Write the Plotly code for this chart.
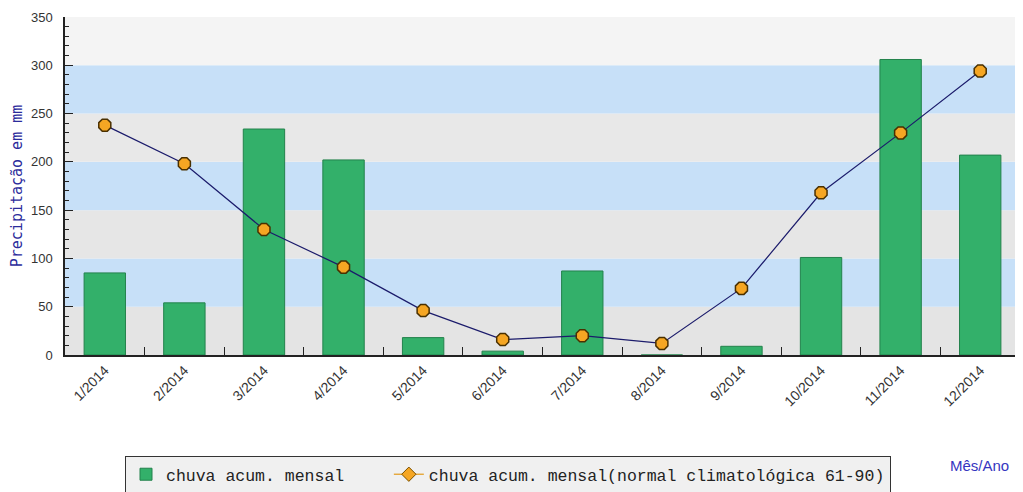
import plotly.graph_objects as go

months = ["1/2014", "2/2014", "3/2014", "4/2014", "5/2014", "6/2014",
          "7/2014", "8/2014", "9/2014", "10/2014", "11/2014", "12/2014"]
chuva_mensal = [85, 54, 234, 202, 18, 4, 87, 0, 9, 101, 306, 207]
normal_climatologica = [238, 198, 130, 91, 46, 16, 20, 12, 69, 168, 230, 294]
band_edges = [0, 50, 100, 150, 200, 250, 300, 350]
band_colors = ["#E4E4E4", "#C7E0F8", "#E6E6E6", "#C7E0F8", "#E8E8E8", "#C7E0F8", "#F4F4F4"]

NBSP = "\u00a0"

fig = go.Figure()

fig.add_trace(go.Bar(
    x=months, y=chuva_mensal, name="chuva acum. mensal" + NBSP * 4,
    width=0.52,
    marker=dict(color="#33B06A", line=dict(color="#23824C", width=1)),
))
fig.add_trace(go.Scatter(
    x=months, y=normal_climatologica, mode="lines+markers",
    name="chuva acum. mensal(normal climatológica 61-90)",
    line=dict(color="#1B1B6B", width=1.2),
    marker=dict(symbol="octagon", size=13, color="#F5A623",
                line=dict(color="#4A3000", width=1.5)),
    showlegend=False,
))
# legend entry with diamond symbol as in the reference
fig.add_trace(go.Scatter(
    x=[None], y=[None], mode="lines+markers",
    name="chuva acum. mensal(normal climatológica 61-90)",
    line=dict(color="#E29A1A", width=1.2),
    marker=dict(symbol="diamond", size=11, color="#F5A623",
                line=dict(color="#7A5000", width=1)),
))

shapes = []
for i, c in enumerate(band_colors):
    shapes.append(dict(type="rect", xref="paper", yref="y", x0=0, x1=1,
                       y0=band_edges[i], y1=band_edges[i + 1],
                       fillcolor=c, line=dict(width=0), layer="below"))

W, H = 1015, 484
fig.update_layout(
    width=W, height=H,
    margin=dict(l=57, r=3, t=9, b=137, autoexpand=False),
    paper_bgcolor="white", plot_bgcolor="white",
    shapes=shapes,
    showlegend=True,
    legend=dict(orientation="h", x=117 / W, xref="container", xanchor="left",
                y=1 - 448 / H, yref="container", yanchor="top",
                bgcolor="#F0F0F0", bordercolor="#333333", borderwidth=1,
                font=dict(family="Liberation Mono", size=16.5, color="#222222"),
                itemwidth=30, tracegroupgap=0),
    xaxis=dict(
        type="category", tickangle=-45, tickson="boundaries",
        ticks="inside", ticklen=8, tickcolor="#222", tickwidth=1,
        showline=True, linecolor="#222", linewidth=1.5, mirror=False,
        showgrid=False, automargin=False,
        tickfont=dict(family="Liberation Sans", size=14, color="#333333"),
        range=[-0.5, 11.5],
    ),
    yaxis=dict(
        range=[0, 350], dtick=50, ticks="inside", ticklen=8, tickcolor="#222",
        showline=True, linecolor="#222", linewidth=1.5, showgrid=False, zeroline=False,
        automargin=False, ticklabelstandoff=8,
        minor=dict(dtick=10, ticks="inside", ticklen=4, tickcolor="#222"),
        tickfont=dict(family="Liberation Sans", size=13, color="#333333"),
        title=dict(text="Precipitação em mm", standoff=20,
                   font=dict(family="DejaVu Sans Mono", size=15, color="#2B2B9B")),
    ),
    annotations=[dict(text="Mês/Ano", xref="paper", yref="paper", x=0.991, y=-0.328,
                      xanchor="right", yanchor="middle", showarrow=False,
                      font=dict(family="Liberation Sans", size=15, color="#3535C0"))],
)

fig.write_html("out.html")
